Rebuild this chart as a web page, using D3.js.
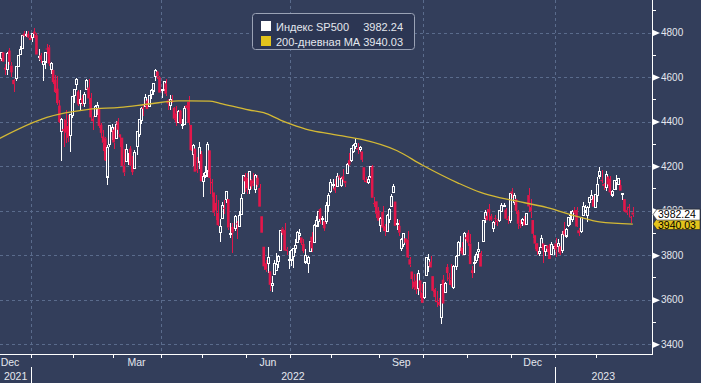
<!DOCTYPE html>
<html><head><meta charset="utf-8">
<script src="https://cdn.jsdelivr.net/npm/d3@7"></script>
<style>html,body{margin:0;padding:0;background:#333e5b;overflow:hidden}svg{display:block}</style>
</head><body>
<svg id="c" width="701" height="383"></svg>
<script>
// S&P 500 daily candles: [date, open, high, low, close]
const candles = [
["2021-12-01",4602,4652,4510,4513],["2021-12-02",4504,4595,4504,4577],["2021-12-03",4589,4608,4495,4538],
["2021-12-06",4548,4612,4540,4591],["2021-12-07",4632,4694,4632,4686],["2021-12-08",4690,4705,4674,4701],
["2021-12-09",4691,4695,4665,4667],["2021-12-10",4687,4713,4670,4712],["2021-12-13",4711,4711,4666,4669],
["2021-12-14",4642,4660,4607,4634],["2021-12-15",4637,4712,4611,4709],["2021-12-16",4719,4731,4653,4668],
["2021-12-17",4652,4666,4600,4621],["2021-12-20",4587,4591,4531,4568],["2021-12-21",4595,4651,4583,4649],
["2021-12-22",4646,4697,4645,4697],["2021-12-23",4703,4740,4703,4726],["2021-12-27",4733,4791,4733,4791],
["2021-12-28",4795,4807,4781,4786],["2021-12-29",4788,4805,4778,4793],["2021-12-30",4794,4808,4775,4778],
["2021-12-31",4776,4787,4765,4766],
["2022-01-03",4779,4797,4759,4797],["2022-01-04",4804,4819,4774,4794],["2022-01-05",4788,4798,4699,4701],
["2022-01-06",4693,4726,4671,4696],["2022-01-07",4698,4707,4663,4677],["2022-01-10",4655,4673,4582,4670],
["2022-01-11",4670,4714,4638,4713],["2022-01-12",4728,4749,4703,4726],["2022-01-13",4734,4744,4651,4660],
["2022-01-14",4637,4666,4614,4663],["2022-01-18",4632,4632,4568,4577],["2022-01-19",4588,4611,4530,4533],
["2022-01-20",4548,4603,4475,4483],["2022-01-21",4472,4495,4395,4398],["2022-01-24",4357,4417,4222,4410],
["2022-01-25",4367,4411,4287,4357],["2022-01-26",4408,4453,4304,4350],["2022-01-27",4380,4428,4309,4327],
["2022-01-28",4337,4432,4264,4432],["2022-01-31",4431,4516,4415,4516],
["2022-02-01",4519,4546,4484,4546],["2022-02-02",4566,4596,4544,4590],["2022-02-03",4535,4542,4470,4477],
["2022-02-04",4483,4540,4451,4501],["2022-02-07",4505,4521,4471,4484],["2022-02-08",4480,4531,4465,4522],
["2022-02-09",4548,4590,4548,4587],["2022-02-10",4553,4589,4477,4504],["2022-02-11",4506,4527,4402,4419],
["2022-02-14",4413,4427,4364,4401],["2022-02-15",4429,4473,4429,4472],["2022-02-16",4455,4490,4429,4475],
["2022-02-17",4456,4456,4373,4380],["2022-02-18",4385,4394,4327,4349],["2022-02-22",4333,4362,4268,4305],
["2022-02-23",4325,4329,4221,4226],["2022-02-24",4155,4295,4115,4288],["2022-02-25",4298,4385,4287,4385],
["2022-02-28",4354,4389,4318,4374],
["2022-03-01",4364,4375,4279,4306],["2022-03-02",4322,4401,4322,4387],["2022-03-03",4401,4417,4345,4363],
["2022-03-04",4343,4343,4285,4329],["2022-03-07",4328,4328,4199,4201],["2022-03-08",4203,4277,4157,4171],
["2022-03-09",4224,4299,4224,4278],["2022-03-10",4253,4258,4205,4260],["2022-03-11",4279,4292,4200,4204],
["2022-03-14",4202,4247,4161,4173],["2022-03-15",4188,4272,4187,4262],["2022-03-16",4289,4358,4251,4358],
["2022-03-17",4345,4412,4330,4412],["2022-03-18",4407,4465,4390,4463],["2022-03-21",4462,4481,4424,4461],
["2022-03-22",4470,4522,4468,4512],["2022-03-23",4494,4501,4455,4456],["2022-03-24",4470,4520,4468,4520],
["2022-03-25",4523,4546,4502,4543],["2022-03-28",4541,4575,4518,4575],["2022-03-29",4603,4637,4582,4632],
["2022-03-30",4624,4628,4589,4602],["2022-03-31",4599,4604,4530,4530],
["2022-04-01",4540,4548,4508,4546],["2022-04-04",4547,4584,4536,4583],["2022-04-05",4572,4593,4514,4525],
["2022-04-06",4495,4503,4450,4481],["2022-04-07",4474,4521,4450,4500],["2022-04-08",4494,4521,4483,4488],
["2022-04-11",4462,4464,4408,4413],["2022-04-12",4437,4471,4381,4397],["2022-04-13",4397,4453,4393,4447],
["2022-04-14",4449,4452,4390,4392],["2022-04-18",4385,4411,4367,4391],["2022-04-19",4390,4471,4390,4463],
["2022-04-20",4473,4488,4452,4460],["2022-04-21",4489,4513,4384,4394],["2022-04-22",4385,4386,4268,4272],
["2022-04-25",4255,4299,4200,4297],["2022-04-26",4279,4279,4175,4175],["2022-04-27",4186,4240,4170,4183],
["2022-04-28",4222,4308,4188,4288],["2022-04-29",4254,4270,4132,4132],
["2022-05-02",4131,4170,4062,4155],["2022-05-03",4159,4200,4146,4175],["2022-05-04",4181,4308,4152,4300],
["2022-05-05",4271,4271,4077,4147],["2022-05-06",4129,4140,4063,4123],["2022-05-09",4082,4082,3976,3991],
["2022-05-10",4035,4069,3960,4001],["2022-05-11",3990,4049,3929,3935],["2022-05-12",3903,3964,3859,3930],
["2022-05-13",3964,4039,3964,4024],["2022-05-16",4013,4046,3984,4008],["2022-05-17",4052,4090,4033,4088],
["2022-05-18",4052,4052,3913,3924],["2022-05-19",3900,3946,3877,3901],["2022-05-20",3927,3944,3810,3901],
["2022-05-23",3920,3981,3909,3974],["2022-05-24",3943,3955,3875,3941],["2022-05-25",3929,3999,3925,3979],
["2022-05-26",3985,4075,3985,4058],["2022-05-27",4077,4158,4077,4158],["2022-05-31",4152,4169,4084,4132],
["2022-06-01",4149,4167,4073,4101],["2022-06-02",4095,4177,4074,4177],["2022-06-03",4137,4142,4098,4109],
["2022-06-06",4134,4169,4110,4121],["2022-06-07",4097,4164,4080,4161],["2022-06-08",4148,4160,4107,4116],
["2022-06-09",4102,4119,4018,4018],["2022-06-10",3975,3975,3900,3901],["2022-06-13",3838,3838,3734,3750],
["2022-06-14",3764,3778,3723,3735],["2022-06-15",3765,3838,3722,3790],["2022-06-16",3728,3728,3640,3667],
["2022-06-17",3665,3708,3637,3675],["2022-06-21",3716,3779,3716,3765],["2022-06-22",3734,3810,3731,3760],
["2022-06-23",3774,3802,3743,3796],["2022-06-24",3821,3913,3821,3912],["2022-06-27",3920,3928,3889,3900],
["2022-06-28",3913,3945,3820,3821],["2022-06-29",3826,3837,3799,3819],["2022-06-30",3785,3818,3739,3785],
["2022-07-01",3782,3829,3752,3825],["2022-07-05",3793,3832,3743,3831],["2022-07-06",3831,3871,3809,3845],
["2022-07-07",3859,3910,3859,3903],["2022-07-08",3889,3918,3870,3899],["2022-07-11",3880,3880,3847,3855],
["2022-07-12",3851,3873,3812,3819],["2022-07-13",3772,3829,3759,3802],["2022-07-14",3764,3796,3722,3790],
["2022-07-15",3818,3863,3818,3863],["2022-07-18",3883,3903,3813,3831],["2022-07-19",3861,3939,3860,3937],
["2022-07-20",3935,3975,3930,3960],["2022-07-21",3955,3999,3927,3999],["2022-07-22",4007,4013,3938,3962],
["2022-07-25",3966,3976,3937,3967],["2022-07-26",3953,3954,3910,3921],["2022-07-27",3951,4040,3942,4024],
["2022-07-28",4026,4079,3992,4072],["2022-07-29",4088,4141,4079,4130],
["2022-08-01",4113,4141,4097,4119],["2022-08-02",4104,4140,4079,4091],["2022-08-03",4108,4168,4108,4155],
["2022-08-04",4154,4161,4136,4152],["2022-08-05",4115,4152,4107,4145],["2022-08-08",4155,4187,4128,4140],
["2022-08-09",4134,4135,4108,4122],["2022-08-10",4170,4212,4164,4210],["2022-08-11",4227,4257,4201,4207],
["2022-08-12",4225,4280,4219,4280],["2022-08-15",4270,4301,4261,4297],["2022-08-16",4290,4325,4277,4305],
["2022-08-17",4281,4303,4254,4274],["2022-08-18",4274,4292,4262,4284],["2022-08-19",4266,4266,4218,4228],
["2022-08-22",4195,4195,4130,4138],["2022-08-23",4134,4149,4124,4128],["2022-08-24",4127,4156,4119,4141],
["2022-08-25",4154,4200,4147,4199],["2022-08-26",4198,4204,4057,4058],["2022-08-29",4034,4063,4017,4031],
["2022-08-30",4042,4044,3965,3986],["2022-08-31",4000,4015,3954,3955],
["2022-09-01",3937,3970,3903,3967],["2022-09-02",3995,4019,3907,3924],["2022-09-06",3930,3942,3886,3908],
["2022-09-07",3910,3987,3906,3980],["2022-09-08",3960,4010,3944,4006],["2022-09-09",4022,4077,4022,4067],
["2022-09-12",4084,4119,4084,4110],["2022-09-13",4041,4041,3932,3932],["2022-09-14",3940,3961,3913,3946],
["2022-09-15",3932,3959,3888,3901],["2022-09-16",3832,3876,3820,3873],["2022-09-19",3849,3900,3839,3900],
["2022-09-20",3876,3876,3827,3856],["2022-09-21",3871,3907,3789,3790],["2022-09-22",3782,3790,3749,3758],
["2022-09-23",3727,3727,3648,3693],["2022-09-26",3682,3716,3644,3655],["2022-09-27",3686,3717,3624,3647],
["2022-09-28",3651,3733,3623,3720],["2022-09-29",3687,3687,3610,3640],["2022-09-30",3633,3671,3584,3586],
["2022-10-03",3610,3679,3604,3678],["2022-10-04",3710,3791,3710,3791],["2022-10-05",3753,3807,3723,3783],
["2022-10-06",3771,3797,3745,3745],["2022-10-07",3706,3706,3633,3640],["2022-10-10",3647,3652,3588,3612],
["2022-10-11",3595,3640,3569,3589],["2022-10-12",3590,3608,3570,3577],["2022-10-13",3520,3671,3491,3670],
["2022-10-14",3690,3712,3583,3583],["2022-10-17",3638,3680,3638,3677],["2022-10-18",3747,3762,3686,3720],
["2022-10-19",3699,3719,3666,3695],["2022-10-20",3689,3762,3657,3666],["2022-10-21",3657,3757,3647,3752],
["2022-10-24",3752,3799,3735,3797],["2022-10-25",3799,3862,3799,3859],["2022-10-26",3825,3887,3824,3830],
["2022-10-27",3835,3859,3803,3807],["2022-10-28",3808,3905,3808,3901],["2022-10-31",3881,3893,3863,3872],
["2022-11-01",3901,3911,3843,3856],["2022-11-02",3853,3894,3759,3760],["2022-11-03",3733,3750,3698,3720],
["2022-11-04",3767,3796,3721,3771],["2022-11-07",3780,3814,3764,3807],["2022-11-08",3817,3859,3786,3828],
["2022-11-09",3810,3819,3748,3749],["2022-11-10",3860,3959,3860,3956],["2022-11-11",3964,4001,3944,3993],
["2022-11-14",3977,4009,3956,3957],["2022-11-15",4007,4028,3954,3992],["2022-11-16",3976,3984,3955,3959],
["2022-11-17",3919,3954,3906,3947],["2022-11-18",3967,3979,3935,3965],["2022-11-21",3956,3962,3933,3950],
["2022-11-22",3956,4004,3947,4003],["2022-11-23",4000,4034,3999,4027],["2022-11-25",4023,4035,4021,4026],
["2022-11-28",4005,4013,3956,3964],["2022-11-29",3964,3977,3938,3958],["2022-11-30",3958,4080,3943,4080],
["2022-12-01",4087,4101,4058,4076],["2022-12-02",4041,4081,4026,4072],["2022-12-05",4053,4053,3984,3999],
["2022-12-06",3996,4001,3918,3941],["2022-12-07",3937,3957,3922,3933],["2022-12-08",3947,3966,3933,3963],
["2022-12-09",3954,3977,3934,3934],["2022-12-12",3940,3991,3939,3991],["2022-12-13",4070,4100,3994,4019],
["2022-12-14",4016,4053,3966,3996],["2022-12-15",3958,3959,3879,3896],["2022-12-16",3890,3890,3828,3852],
["2022-12-19",3854,3855,3800,3818],["2022-12-20",3810,3839,3796,3821],["2022-12-21",3840,3889,3840,3879],
["2022-12-22",3853,3853,3765,3822],["2022-12-23",3816,3846,3798,3845],["2022-12-27",3843,3846,3813,3829],
["2022-12-28",3829,3849,3783,3783],["2022-12-29",3805,3858,3805,3849],["2022-12-30",3829,3840,3800,3840],
["2023-01-03",3853,3879,3794,3825],["2023-01-04",3840,3874,3815,3853],["2023-01-05",3840,3840,3802,3808],
["2023-01-06",3824,3907,3809,3895],["2023-01-09",3910,3951,3887,3893],["2023-01-10",3889,3920,3877,3919],
["2023-01-11",3932,3970,3925,3970],["2023-01-12",3977,3997,3937,3983],["2023-01-13",3961,4003,3947,3999],
["2023-01-17",3999,4015,3984,3991],["2023-01-18",4003,4017,3928,3929],["2023-01-19",3912,3923,3885,3899],
["2023-01-20",3910,3973,3900,3973],["2023-01-23",3979,4040,3974,4020],["2023-01-24",4001,4024,3990,4017],
["2023-01-25",3982,4019,3949,4016],["2023-01-26",4036,4061,4013,4060],["2023-01-27",4053,4095,4048,4071],
["2023-01-30",4050,4068,4015,4018],["2023-01-31",4020,4077,4020,4077],
["2023-02-01",4070,4149,4037,4119],["2023-02-02",4158,4195,4142,4180],["2023-02-03",4137,4182,4124,4136],
["2023-02-06",4120,4124,4094,4111],["2023-02-07",4106,4176,4089,4164],["2023-02-08",4153,4157,4111,4118],
["2023-02-09",4144,4157,4070,4082],["2023-02-10",4074,4095,4060,4090],["2023-02-13",4097,4139,4092,4137],
["2023-02-14",4127,4159,4095,4136],["2023-02-15",4120,4148,4114,4148],["2023-02-16",4115,4136,4089,4090],
["2023-02-17",4078,4081,4048,4079],["2023-02-21",4052,4052,3995,3997],["2023-02-22",4002,4018,3982,3991],
["2023-02-23",4018,4029,3971,4012],["2023-02-24",3973,3978,3943,3970],["2023-02-27",3992,4018,3973,3982]
];

// 200-day moving average: [date, value]
const maPoints = [
["2021-12-08",4318],["2022-01-12",4419],["2022-02-10",4455],["2022-03-04",4464],["2022-03-24",4479],
["2022-04-13",4493],["2022-05-05",4492],["2022-05-12",4482],["2022-06-02",4452],["2022-06-13",4440],
["2022-06-24",4407],["2022-07-01",4389],["2022-07-15",4362],["2022-07-29",4345],["2022-08-04",4338],
["2022-08-19",4320],["2022-09-14",4269],["2022-09-30",4205],["2022-10-25",4125],["2022-11-09",4082],
["2022-11-22",4059],["2022-12-01",4047],["2022-12-27",4014],["2023-01-19",3972],["2023-02-02",3950],
["2023-02-27",3940.03]
];

const yTicks = [3400,3600,3800,4000,4200,4400,4600,4800];
const yMinorTicks = [3500,3700,3900,4100,4300,4500,4700,4900];
const monthNames = ["Jan","Feb","Mar","Apr","May","Jun","Jul","Aug","Sep","Oct","Nov","Dec"];
const labelMonths = [2,5,8,11];     // Mar, Jun, Sep, Dec
const gridMonths = [0,3,6,9];       // quarter starts
const legendNames = ["Индекс SP500","200-дневная MA"];
const legendValues = ["3982.24","3940.03"];
const lastClose = 3982.24;
const lastMA = 3940.03;

const BG = "#333e5b", RED = "#e3174b", YEL = "#e2c31c", MA_COL = "#d4b935", GRID = "#5a6b8c", TXT = "#e4e7ee";
const font = "'Liberation Sans', Arial, sans-serif";
const plotR = 652, plotB = 354;

const svg = d3.select("#c");
svg.append("rect").attr("width",701).attr("height",383).attr("fill",BG);

const rows = candles.map((r,i)=>({i, d:r[0], o:r[1], h:r[2], l:r[3], c:r[4]}));
const idxOf = new Map(rows.map(r=>[r.d, r.i]));

const x = d3.scaleLinear().domain([0, rows.length-1]).range([-13.6, 632.8]);
const y = d3.scaleLinear().domain([3400,4800]).range([344.3, 32.5]);

// month boundaries
const bounds = [];
rows.forEach((r,i)=>{
  const m = +r.d.slice(5,7)-1, yr = +r.d.slice(0,4);
  if(i===0 || r.d.slice(0,7)!==rows[i-1].d.slice(0,7)) bounds.push({i, m, yr, pos: x(i-0.5)});
});
bounds.forEach((b,k)=>{ b.end = k<bounds.length-1 ? bounds[k+1].pos : plotR; });

const defs = svg.append("defs");
defs.append("clipPath").attr("id","clip").append("rect").attr("x",0).attr("y",0).attr("width",plotR).attr("height",plotB);

// gridlines
const grid = svg.append("g").attr("stroke",GRID).attr("stroke-width",1).attr("stroke-dasharray","3,3").attr("shape-rendering","crispEdges");
grid.selectAll("line.h").data(yTicks).join("line").attr("class","h")
  .attr("x1",0).attr("x2",plotR).attr("y1",d=>Math.round(y(d))+0.5).attr("y2",d=>Math.round(y(d))+0.5);
grid.selectAll("line.v").data(bounds.filter(b=>gridMonths.includes(b.m) && b.pos>0)).join("line").attr("class","v")
  .attr("x1",b=>Math.round(b.pos)+0.5).attr("x2",b=>Math.round(b.pos)+0.5).attr("y1",0).attr("y2",plotB);

// candles
const cg = svg.append("g").attr("clip-path","url(#clip)");
rows.forEach(r=>{
  const cx = Math.round(x(r.i))+0.5;
  const up = r.c >= r.o;
  const top = y(Math.max(r.o,r.c)), bot = y(Math.min(r.o,r.c));
  const col = up ? "#ffffff" : RED;
  const g = cg.append("g");
  g.append("line").attr("x1",cx).attr("x2",cx).attr("y1",y(r.h)).attr("y2",top)
    .attr("stroke",col).attr("stroke-width",1).attr("shape-rendering","crispEdges");
  g.append("line").attr("x1",cx).attr("x2",cx).attr("y1",bot).attr("y2",y(r.l))
    .attr("stroke",col).attr("stroke-width",1).attr("shape-rendering","crispEdges");
  if(up){
    g.append("rect").attr("x",cx-1).attr("y",Math.round(top)+0.5).attr("width",2).attr("height",Math.max(1,Math.round(bot-top)))
      .attr("fill","none").attr("stroke","#ffffff").attr("stroke-width",1).attr("shape-rendering","crispEdges");
  } else {
    g.append("rect").attr("x",x(r.i)-1.3).attr("y",top).attr("width",2.6).attr("height",Math.max(1,bot-top))
      .attr("fill",RED);
  }
});

// moving average line
const line = d3.line().x(d=>x(idxOf.get(d[0]))).y(d=>y(d[1])).curve(d3.curveMonotoneX);
cg.append("path").datum(maPoints).attr("d",line).attr("fill","none").attr("stroke",MA_COL).attr("stroke-width",1.3);

// right axis
const yAxis = d3.axisRight(y).tickValues(yTicks).tickSize(0).tickPadding(10).tickFormat(d3.format("d"));
const ya = svg.append("g").attr("transform",`translate(${plotR},0)`).call(yAxis);
ya.select(".domain").remove();
ya.selectAll(".tick text").attr("fill",TXT).attr("font-family",font).attr("font-size",10).attr("x",9);
ya.selectAll(".tick").append("path").attr("d","M0,-3.5L8,0L0,3.5Z").attr("fill","#ffffff");
svg.append("g").selectAll("line").data(yMinorTicks).join("line")
  .attr("x1",plotR).attr("x2",plotR+4).attr("y1",d=>Math.round(y(d))+0.5).attr("y2",d=>Math.round(y(d))+0.5)
  .attr("stroke","#ffffff").attr("shape-rendering","crispEdges");
svg.append("line").attr("x1",plotR+0.5).attr("x2",plotR+0.5).attr("y1",0).attr("y2",plotB+0.5)
  .attr("stroke","#ffffff").attr("shape-rendering","crispEdges");

// bottom axis
const xAxis = d3.axisBottom(x).tickValues(bounds.map(b=>b.i-0.5)).tickSize(3).tickFormat("");
const xa = svg.append("g").attr("transform",`translate(0,${plotB+0.5})`).call(xAxis);
xa.select(".domain").remove();
xa.selectAll(".tick line").attr("stroke","#ffffff").attr("shape-rendering","crispEdges");
xa.selectAll(".tick").filter(d=>x(d)<0 || x(d)>plotR).remove();
svg.append("line").attr("x1",0).attr("x2",plotR).attr("y1",plotB+0.5).attr("y2",plotB+0.5)
  .attr("stroke","#ffffff").attr("shape-rendering","crispEdges");

// month labels
svg.append("g").selectAll("text").data(bounds.filter(b=>labelMonths.includes(b.m))).join("text")
  .attr("x",b=>Math.max(10,(b.pos+b.end)/2)).attr("y",plotB+12).attr("text-anchor","middle")
  .attr("font-family",font).attr("font-size",10.5).attr("fill",TXT).text(b=>monthNames[b.m]);

// year labels and dividers
const years = Array.from(d3.group(bounds, b=>b.yr), ([yr, bs])=>({yr, start: Math.max(0,bs[0].pos), end: Math.min(plotR, bs[bs.length-1].end)}));
svg.append("g").selectAll("text").data(years).join("text")
  .attr("x",d=>Math.max(12,(d.start+d.end)/2)).attr("y",plotB+26).attr("text-anchor","middle")
  .attr("font-family",font).attr("font-size",10.5).attr("fill",TXT).text(d=>d.yr);
svg.append("g").selectAll("line").data(years.filter(d=>d.start>0)).join("line")
  .attr("x1",d=>Math.round(d.start)+0.5).attr("x2",d=>Math.round(d.start)+0.5).attr("y1",plotB+13).attr("y2",383)
  .attr("stroke","#ffffff").attr("shape-rendering","crispEdges");

// last value tags
function tag(v, fill, label, dy){
  const cy = y(v);
  svg.append("path").attr("d",`M${plotR+1},${cy}L${plotR+5},${cy-5.5}H700V${cy+5.5}H${plotR+5}Z`)
    .attr("fill",fill).attr("stroke","#222").attr("stroke-width",0.6);
  svg.append("text").attr("x",plotR+6).attr("y",cy+dy).attr("font-family",font).attr("font-size",10.5)
    .attr("fill","#000").text(label);
}
tag(lastMA, YEL, legendValues[1], 4.8);
tag(lastClose, "#ffffff", legendValues[0], 3.6);

// legend
const lg = svg.append("g");
lg.append("rect").attr("x",252.5).attr("y",13.5).attr("width",162).attr("height",36).attr("rx",3)
  .attr("fill","#2c3653").attr("stroke","#9aa2b5");
const sw = ["#ffffff", YEL];
legendNames.forEach((n,k)=>{
  const by = 21 + k*15;
  lg.append("rect").attr("x",261).attr("y",by).attr("width",10).attr("height",10).attr("fill",sw[k]);
  lg.append("text").attr("x",276).attr("y",by+9.5).attr("font-family",font).attr("font-size",11)
    .attr("fill",TXT).text(n);
  lg.append("text").attr("x",403).attr("y",by+9.5).attr("text-anchor","end").attr("font-family",font).attr("font-size",11)
    .attr("fill",TXT).text(legendValues[k]);
});
</script>
</body></html>
